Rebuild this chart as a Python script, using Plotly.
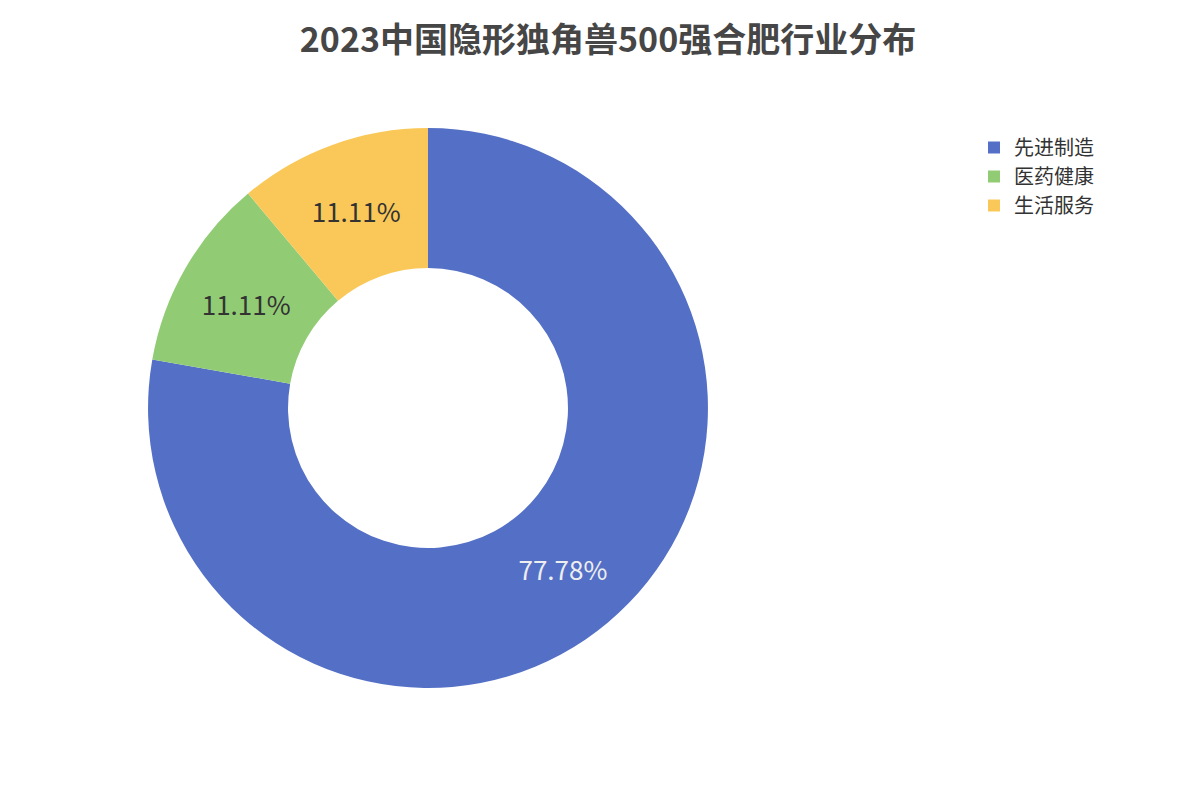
import plotly.graph_objects as go

categories = ["先进制造", "医药健康", "生活服务"]
values = [7, 1, 1]
colors = ["#5470c6", "#91cc75", "#fac858"]
label_colors = ["#eeeeee", "#333333", "#333333"]

fig = go.Figure(go.Pie(
    labels=categories, values=values, hole=0.5, sort=False,
    direction="clockwise", rotation=0,
    marker=dict(colors=colors, line=dict(width=0)),
    textinfo="percent", texttemplate="%{percent:.2%}",
    textposition="inside", insidetextorientation="horizontal",
    insidetextfont=dict(color=label_colors, size=26, family="Noto Sans CJK SC"),
    domain=dict(x=[0.1167, 0.5833], y=[0.15, 0.85]),
    hoverinfo="label+percent",
))
fig.update_layout(
    width=1200, height=800,
    margin=dict(l=0, r=0, t=0, b=0),
    paper_bgcolor="white",
    font=dict(family="Noto Sans CJK SC", color="#333"),
    title=dict(text="<b>2023中国隐形独角兽500强合肥行业分布</b>", x=0.5, xanchor="center",
               y=0.96, yanchor="middle", font=dict(size=34, color="#464646")),
    legend=dict(x=0.805, y=0.85, xanchor="left", yanchor="top",
                font=dict(size=20, color="#333"), itemsizing="constant",
                tracegroupgap=10),
)
fig.write_html("out.html")
